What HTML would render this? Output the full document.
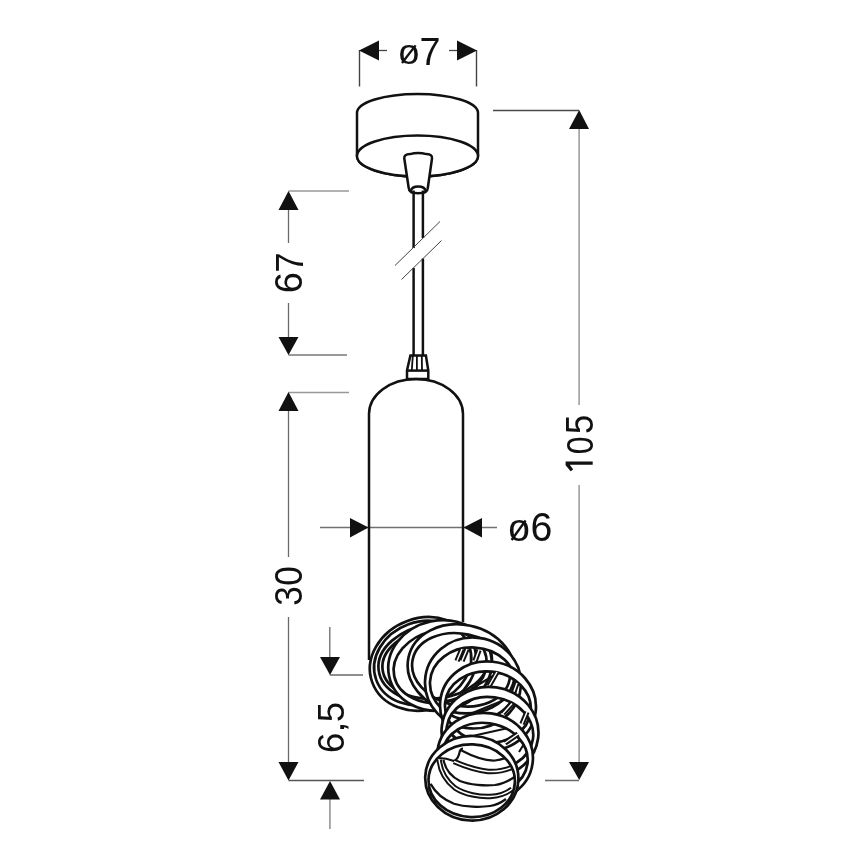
<!DOCTYPE html>
<html><head><meta charset="utf-8"><style>
html,body{margin:0;padding:0;background:#fff;}
svg{display:block;will-change:transform;}
text{font-family:"Liberation Sans",sans-serif;font-size:100px;fill:#111;}
</style></head><body>
<svg width="868" height="868" viewBox="0 0 868 868">
<g id="dims" stroke="#6a6a6a" stroke-width="1.3" fill="none">
  <!-- ø7 -->
  <line x1="359.5" y1="50" x2="359.5" y2="86.5" stroke="#444" stroke-width="1.4"/>
  <line x1="476.5" y1="50" x2="476.5" y2="86.5" stroke="#444" stroke-width="1.4"/>
  <line x1="378" y1="50.5" x2="387" y2="50.5" stroke="#444"/>
  <line x1="449" y1="50.5" x2="458" y2="50.5" stroke="#444"/>
  <!-- 67 -->
  <line x1="288.5" y1="191" x2="349" y2="191" stroke="#999"/>
  <line x1="288.5" y1="355" x2="347" y2="355" stroke="#777"/>
  <line x1="288.5" y1="209" x2="288.5" y2="243"/>
  <line x1="288.5" y1="303" x2="288.5" y2="337"/>
  <!-- 30 -->
  <line x1="288.5" y1="392.5" x2="349" y2="392.5" stroke="#999"/>
  <line x1="288.5" y1="411" x2="288.5" y2="557"/>
  <line x1="288.5" y1="617" x2="288.5" y2="762"/>
  <line x1="288.5" y1="780.5" x2="364" y2="780.5" stroke="#555" stroke-width="1.5"/>
  <!-- 6,5 -->
  <line x1="329.8" y1="627" x2="329.8" y2="657"/>
  <line x1="329.8" y1="675" x2="363" y2="675"/>
  <line x1="329.9" y1="799" x2="329.9" y2="829" stroke="#a0a0a0" stroke-width="1.8"/>
  <!-- 105 -->
  <line x1="493" y1="110.4" x2="579" y2="110.4" stroke="#4a4a4a" stroke-width="1.5"/>
  <line x1="579.1" y1="128" x2="579.1" y2="405" stroke="#999" stroke-width="1.5"/>
  <line x1="579.1" y1="485" x2="579.1" y2="762" stroke="#999" stroke-width="1.5"/>
  <line x1="545" y1="780.5" x2="579" y2="780.5"/>
  <!-- ø6 -->
  <line x1="320" y1="527.5" x2="497" y2="527.5" stroke="#707070"/>
</g>
<g id="arrows" fill="#111" stroke="none">
  <polygon points="359,50.5 379,40.5 379,60.5"/>
  <polygon points="477,50.5 457,40.5 457,60.5"/>
  <polygon points="288.5,191 278.5,210 298.5,210"/>
  <polygon points="288.5,355 278.5,337 298.5,337"/>
  <polygon points="288.5,392 278.5,411 298.5,411"/>
  <polygon points="288.5,780.5 278.5,762 298.5,762"/>
  <polygon points="330,675 320,657 340,657"/>
  <polygon points="330,781 320,799.5 340,799.5"/>
  <polygon points="579.2,110 569,129 589,129"/>
  <polygon points="579.2,780 569,762 589,762"/>
  <polygon points="368.5,527.5 350,518 350,537.5"/>
  <polygon points="463.5,527.5 482,518 482,537.5"/>
</g>
<g id="labels">
<text transform="translate(408.65,54.20) scale(0.3761,0.3593)" x="-27.0" y="27.0">o</text>
<text transform="translate(429.90,50.75) scale(0.3778,0.3925)" x="-27.5" y="35.5">7</text>
<text transform="translate(518.65,530.25) scale(0.3891,0.3833)" x="-27.0" y="27.0">o</text>
<text transform="translate(541.25,526.55) scale(0.3933,0.3986)" x="-27.5" y="35.0">6</text>
<text transform="translate(289.10,262.60) rotate(-90) scale(0.3600,0.3881)" x="-27.5" y="35.5">7</text>
<text transform="translate(288.95,282.75) rotate(-90) scale(0.3800,0.3843)" x="-27.5" y="35.0">6</text>
<text transform="translate(288.75,596.30) rotate(-90) scale(0.3522,0.3900)" x="-27.0" y="35.0">3</text>
<text transform="translate(288.95,576.15) rotate(-90) scale(0.3511,0.3843)" x="-27.5" y="35.0">0</text>
<text transform="translate(330.95,742.90) rotate(-90) scale(0.3644,0.3643)" x="-27.5" y="35.0">6</text>
<text transform="translate(330.80,712.40) rotate(-90) scale(0.3652,0.3739)" x="-27.0" y="34.5">5</text>
<text transform="translate(344.25,727.15) rotate(-90) scale(0.4111,0.3435)" x="-13.5" y="-0.5">,</text>
<text transform="translate(579.85,445.35) rotate(-90) scale(0.3213,0.3757)" x="-27.5" y="35.0">0</text>
<text transform="translate(579.40,424.65) rotate(-90) scale(0.3457,0.3826)" x="-27.0" y="34.5">5</text>
<g stroke="#111" stroke-width="2.3" fill="none" stroke-linecap="butt"><line x1="402" y1="63" x2="415.6" y2="45.4"/><line x1="511.6" y1="540" x2="525.6" y2="520.5"/></g>
<polygon fill="#111" points="565.6,461.6 592.7,461.6 592.7,464.8 569.8,464.8 573.2,469.4 570.6,471.2 565.6,465.2"/>
</g><!--labelsend-->
<g id="lamp" stroke="#111" stroke-width="2.5" fill="#fff">
  <!-- canopy -->
  <path d="M357,113 L357,156 A60.5,20.5 0 0 0 478,156 L478,113 A60.5,19 0 0 0 357,113 Z"/>
  <ellipse cx="417.5" cy="156" rx="60.5" ry="20.5"/>
  <!-- cone -->
  <path d="M404.3,158.5 C404,155.5 406,154.4 410,154.1 Q418,152 426.5,154.1 C430.5,154.4 432.3,155.5 432,158.5 L427.8,188 C427.5,192.3 425,193.2 418.2,193.2 C411.4,193.2 409,192.3 408.7,188 Z"/>
  <path d="M410.8,191 C411.5,187.8 414,186.5 418.2,186.5 C422.5,186.5 425,187.8 425.7,191" fill="none"/>
  <!-- cable -->
  <line x1="413.6" y1="190.5" x2="413.6" y2="248" />
  <line x1="422.9" y1="190.5" x2="422.9" y2="238" />
  <line x1="413.6" y1="268" x2="413.6" y2="355" />
  <line x1="422.9" y1="258.5" x2="422.9" y2="355" />
  <!-- connector -->
  <path d="M410.4,355.5 L425.9,355.5 L428.3,370.5 L428.3,379 L407,379 L407,370.5 Z"/>
  <line x1="407" y1="370.6" x2="428.3" y2="370.6"/>
  <g stroke-width="1.8"><line x1="412.8" y1="356" x2="411.8" y2="370"/><line x1="416.9" y1="356" x2="416.9" y2="370"/><line x1="421.8" y1="356" x2="422" y2="370"/></g>
  <!-- body -->
  <path fill="none" d="M369,660 L369,414 A47,35 0 0 1 463,414 L463,622"/>
</g>
<g stroke="#444" stroke-width="1" fill="none">
  <line x1="395" y1="265.5" x2="440" y2="221.5"/>
  <line x1="401.5" y1="279.5" x2="441.5" y2="240.5"/>
</g>
<g id="coil" fill="#fff" fill-rule="evenodd" stroke="#111" stroke-width="2.7">
<path transform="rotate(-20 423 663.9)" d="M369.00,663.90 A54.00,45.70 0 1 0 477.00,663.90 A54.00,45.70 0 1 0 369.00,663.90 Z M373.60,662.90 A49.40,41.20 0 1 0 472.40,662.90 A49.40,41.20 0 1 0 373.60,662.90 Z"/>
<path transform="rotate(-6.6 435.2 663.4)" d="M378.20,663.40 A57.00,39.00 0 1 0 492.20,663.40 A57.00,39.00 0 1 0 378.20,663.40 Z M382.20,663.40 A53.00,35.00 0 1 0 488.20,663.40 A53.00,35.00 0 1 0 382.20,663.40 Z"/>
<path transform="rotate(-12 440 665.5)" d="M388.00,665.50 A52.00,45.00 0 1 0 492.00,665.50 A52.00,45.00 0 1 0 388.00,665.50 Z M393.00,666.50 A47.00,36.00 0 1 0 487.00,666.50 A47.00,36.00 0 1 0 393.00,666.50 Z"/>
<path transform="rotate(12 461.3 668.8)" d="M407.30,668.80 A54.00,44.00 0 1 0 515.30,668.80 A54.00,44.00 0 1 0 407.30,668.80 Z M411.80,669.80 A49.50,36.00 0 1 0 510.80,669.80 A49.50,36.00 0 1 0 411.80,669.80 Z"/>
<path transform="rotate(3 473 683)" d="M425.00,683.00 A48.00,45.50 0 1 0 521.00,683.00 A48.00,45.50 0 1 0 425.00,683.00 Z M430.00,684.00 A43.00,36.50 0 1 0 516.00,684.00 A43.00,36.50 0 1 0 430.00,684.00 Z"/>
<path d="M462,649 L457,661" fill="none" stroke-width="5.4"/><path d="M462,649 L457,661" fill="none" stroke="#fff" stroke-width="1.5"/>
<path d="M467,649 L462,661" fill="none" stroke-width="5.4"/><path d="M467,649 L462,661" fill="none" stroke="#fff" stroke-width="1.5"/>
<path d="M479,650 L475,661" fill="none" stroke-width="5.4"/><path d="M479,650 L475,661" fill="none" stroke="#fff" stroke-width="1.5"/>
<path transform="rotate(6 488 706)" d="M440.00,706.00 A48.00,44.50 0 1 0 536.00,706.00 A48.00,44.50 0 1 0 440.00,706.00 Z M445.00,707.00 A43.00,35.50 0 1 0 531.00,707.00 A43.00,35.50 0 1 0 445.00,707.00 Z"/>
<path d="M497,672 L489,686" fill="none" stroke-width="5.4"/><path d="M497,672 L489,686" fill="none" stroke="#fff" stroke-width="1.5"/>
<path d="M517,683 L513,694" fill="none" stroke-width="5.4"/><path d="M517,683 L513,694" fill="none" stroke="#fff" stroke-width="1.5"/>
<path d="M471,689 L493,676" fill="none" stroke-width="2.1"/>
<path transform="rotate(8 490 732)" d="M441.50,732.00 A48.50,45.00 0 1 0 538.50,732.00 A48.50,45.00 0 1 0 441.50,732.00 Z M446.50,733.00 A43.50,36.00 0 1 0 533.50,733.00 A43.50,36.00 0 1 0 446.50,733.00 Z"/>
<path d="M470,714 L503,700.5" fill="none" stroke-width="2.1"/>
<path d="M512,703.5 L503,713.5" fill="none" stroke-width="5.4"/><path d="M512,703.5 L503,713.5" fill="none" stroke="#fff" stroke-width="1.5"/>
<path d="M527,712 L522,724" fill="none" stroke-width="5.4"/><path d="M527,712 L522,724" fill="none" stroke="#fff" stroke-width="1.5"/>
<path transform="rotate(8 485 757)" d="M437.00,757.00 A48.00,44.00 0 1 0 533.00,757.00 A48.00,44.00 0 1 0 437.00,757.00 Z M442.00,758.00 A43.00,35.00 0 1 0 528.00,758.00 A43.00,35.00 0 1 0 442.00,758.00 Z"/>
<path d="M468,737 L506,728.5" fill="none" stroke-width="2.1"/>
<path d="M518,734 L505,743" fill="none" stroke-width="5.4"/><path d="M518,734 L505,743" fill="none" stroke="#fff" stroke-width="1.5"/>
<path d="M524,744 L519,752" fill="none" stroke-width="2.1"/>
<ellipse transform="rotate(2 471.8 778.25)" cx="471.8" cy="780.75" rx="43.2" ry="36.3" stroke="none"/>
<g fill="none" stroke-width="2.2">
<path d="M439,758 C444,758 450,759.5 454,761 C457,760 459,756 460,750.5 C461,749 462,748.5 463,748.5"/>
<path d="M460.5,750 C470,755 485,761 495,760.5 C500,760 504,758.5 507,757.5"/>
<path d="M443.5,759.7 C445,768 450,776 460,781 C470,785 485,786 495,785 C503,784 509,781 516,776"/>
<path d="M430.6,783.9 C435,792 442,799 454,803.7 C465,807 480,807.5 490,806 C497,805 502,802 506,799"/>
<path id="arcB" d="M454,761.5 C462,765 472,769.5 488,771.5 C498,772 508,769.5 516,765.5" stroke-width="5.4"/>
<path d="M454,761.5 C462,765 472,769.5 488,771.5 C498,772 508,769.5 516,765.5" stroke="#fff" stroke-width="1.5"/>
<path d="M439.2,759.7 C440,770 445,780 455,788 C465,794.5 480,797 490,796.5 C500,796 507,793 512,789" stroke-width="5.4"/>
<path d="M439.2,759.7 C440,770 445,780 455,788 C465,794.5 480,797 490,796.5 C500,796 507,793 512,789" stroke="#fff" stroke-width="1.5"/>
</g>

<path transform="rotate(2 471.8 778.25)" d="M425.20,778.25 A46.60,42.30 0 1 0 518.40,778.25 A46.60,42.30 0 1 0 425.20,778.25 Z M428.60,780.75 A43.20,36.30 0 1 0 515.00,780.75 A43.20,36.30 0 1 0 428.60,780.75 Z"/>
</g><!--coilend-->
</svg>
</body></html>
